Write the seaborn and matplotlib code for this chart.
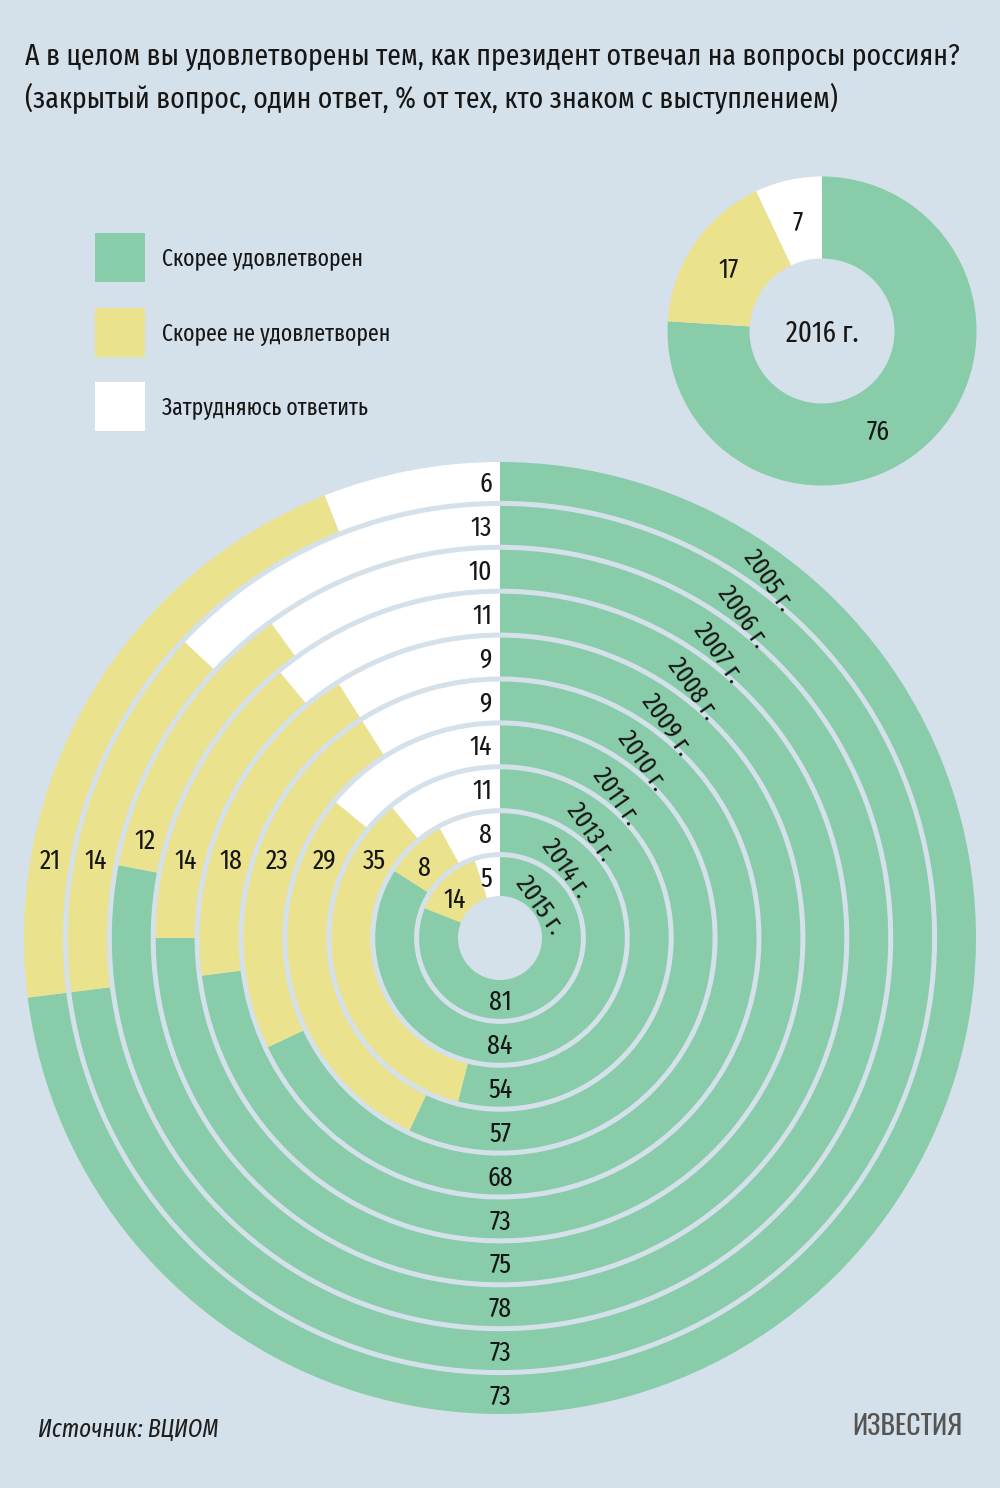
import numpy as np
import matplotlib
matplotlib.use("Agg")
import matplotlib.pyplot as plt
import seaborn as sns

# ---------------- data ----------------
years = ["2005 г.", "2006 г.", "2007 г.", "2008 г.", "2009 г.",
         "2010 г.", "2011 г.", "2013 г.", "2014 г.", "2015 г."]
satisfied = [73, 73, 78, 75, 73, 68, 57, 54, 84, 81]
not_satisfied = [21, 14, 12, 14, 18, 23, 29, 35, 8, 14]
hard_to_say = [6, 13, 10, 11, 9, 9, 14, 11, 8, 5]

year_2016 = "2016 г."
values_2016 = [76, 17, 7]

categories = ["Скорее удовлетворен", "Скорее не удовлетворен", "Затрудняюсь ответить"]

title_line1 = "А в целом вы удовлетворены тем, как президент отвечал на вопросы россиян?"
title_line2 = "(закрытый вопрос, один ответ, % от тех, кто знаком с выступлением)"
source_text = "Источник: ВЦИОМ"
logo_text = "ИЗВЕСТИЯ"

# ---------------- style ----------------
BG = "#d5e1ea"
GREEN = "#88cca9"
YELLOW = "#ebe28e"
WHITE = "#ffffff"
INK = "#161616"
palette = sns.color_palette([GREEN, YELLOW, WHITE])

sns.set_theme(style="white", rc={"figure.facecolor": BG, "axes.facecolor": BG})
FONT = ["Fira Sans Extra Condensed", "PT Sans Narrow", "Roboto Condensed", "DejaVu Sans"]
plt.rcParams["font.family"] = FONT

W, H = 1000, 1488
fig = plt.figure(figsize=(W / 100, H / 100), dpi=100)
fig.patch.set_facecolor(BG)
ax = fig.add_axes([0, 0, 1, 1])
ax.set_facecolor(BG)

# ---------------- big concentric rings ----------------
cx, cy = 500, H - 938
R_out = 476
R_hole = 42
gap = 5
n = len(years)
step = (R_out - R_hole + gap) / n
band = step - gap

for k in range(n):
    r = R_out - k * step
    ax.pie([satisfied[k], not_satisfied[k], hard_to_say[k]],
           radius=r, center=(cx, cy), startangle=90, counterclock=False,
           colors=palette, wedgeprops=dict(width=band, linewidth=0, edgecolor="none"))

num_fs = 20
left_dy = [80, 80, 100, 80, 80, 80, 80, 80, 73, 41]
for k in range(n):
    r_mid = R_out - k * step - band / 2
    # satisfied below centre
    ax.text(cx, cy - r_mid, str(satisfied[k]), ha="center", va="center_baseline",
            fontsize=num_fs, color=INK)
    # hard to say at top
    ax.text(cx - 8, cy + r_mid, str(hard_to_say[k]), ha="right", va="center_baseline",
            fontsize=num_fs, color=INK)
    # not satisfied on the left
    dy = left_dy[k]
    x = cx - np.sqrt(r_mid ** 2 - dy ** 2)
    ax.text(x, cy + dy, str(not_satisfied[k]), ha="center", va="center_baseline",
            fontsize=num_fs, color=INK)
    # year label along the diagonal
    d = np.array([0.577, 0.817])
    foot = np.array([11.5, -8.1])
    rl = r_mid - 7.5
    t = np.sqrt(max(rl ** 2 - 14.1 ** 2, 0))
    p = foot + t * d
    ax.text(cx + p[0], cy + p[1], years[k], ha="center", va="center_baseline",
            rotation=-55, rotation_mode="anchor", fontsize=19, color=INK)

# ---------------- 2016 donut ----------------
dx0, dy0 = 822, H - 331
dR, dhole = 154.5, 72.5
ax.pie(values_2016, radius=dR, center=(dx0, dy0), startangle=90, counterclock=False,
       colors=palette, wedgeprops=dict(width=dR - dhole, linewidth=0, edgecolor="none"))
ax.text(dx0, dy0, year_2016, ha="center", va="center_baseline", fontsize=21, color=INK)
cum = np.cumsum([0] + values_2016[:-1])
shift = [0.038, 0, 0]
rm = (dR + dhole) / 2
for v, c, s in zip(values_2016, cum, shift):
    frac = (c + v / 2) / 100 + s
    ang = np.deg2rad(90 - 360 * frac)
    ax.text(dx0 + rm * np.cos(ang), dy0 + rm * np.sin(ang), str(v),
            ha="center", va="center_baseline", fontsize=num_fs, color=INK)

# ---------------- legend ----------------
leg_y = [H - 257, H - 332, H - 406]
for col, lab, y in zip(palette, categories, leg_y):
    ax.add_patch(plt.Rectangle((95, y - 24.5), 50, 49, facecolor=col, edgecolor="none"))
    ax.text(162, y, lab, ha="left", va="center_baseline", fontsize=17, color=INK)

# ---------------- titles & footer ----------------
ax.text(25, H - 65, title_line1, ha="left", va="baseline", fontsize=21.6, color=INK)
ax.text(25, H - 108, title_line2, ha="left", va="baseline", fontsize=21.6, color=INK)
ax.text(38, H - 1427, source_text, ha="left", va="center_baseline", fontsize=18,
        style="italic", color="#1e1e1e")
ax.text(962, H - 1424, logo_text, ha="right", va="center_baseline", fontsize=20,
        fontweight="bold", color="#555555", family=["Oswald"] + FONT)

ax.set_xlim(0, W)
ax.set_ylim(0, H)
ax.set_aspect("equal")
ax.axis("off")

fig.savefig("out.png", dpi=100, facecolor=BG)
